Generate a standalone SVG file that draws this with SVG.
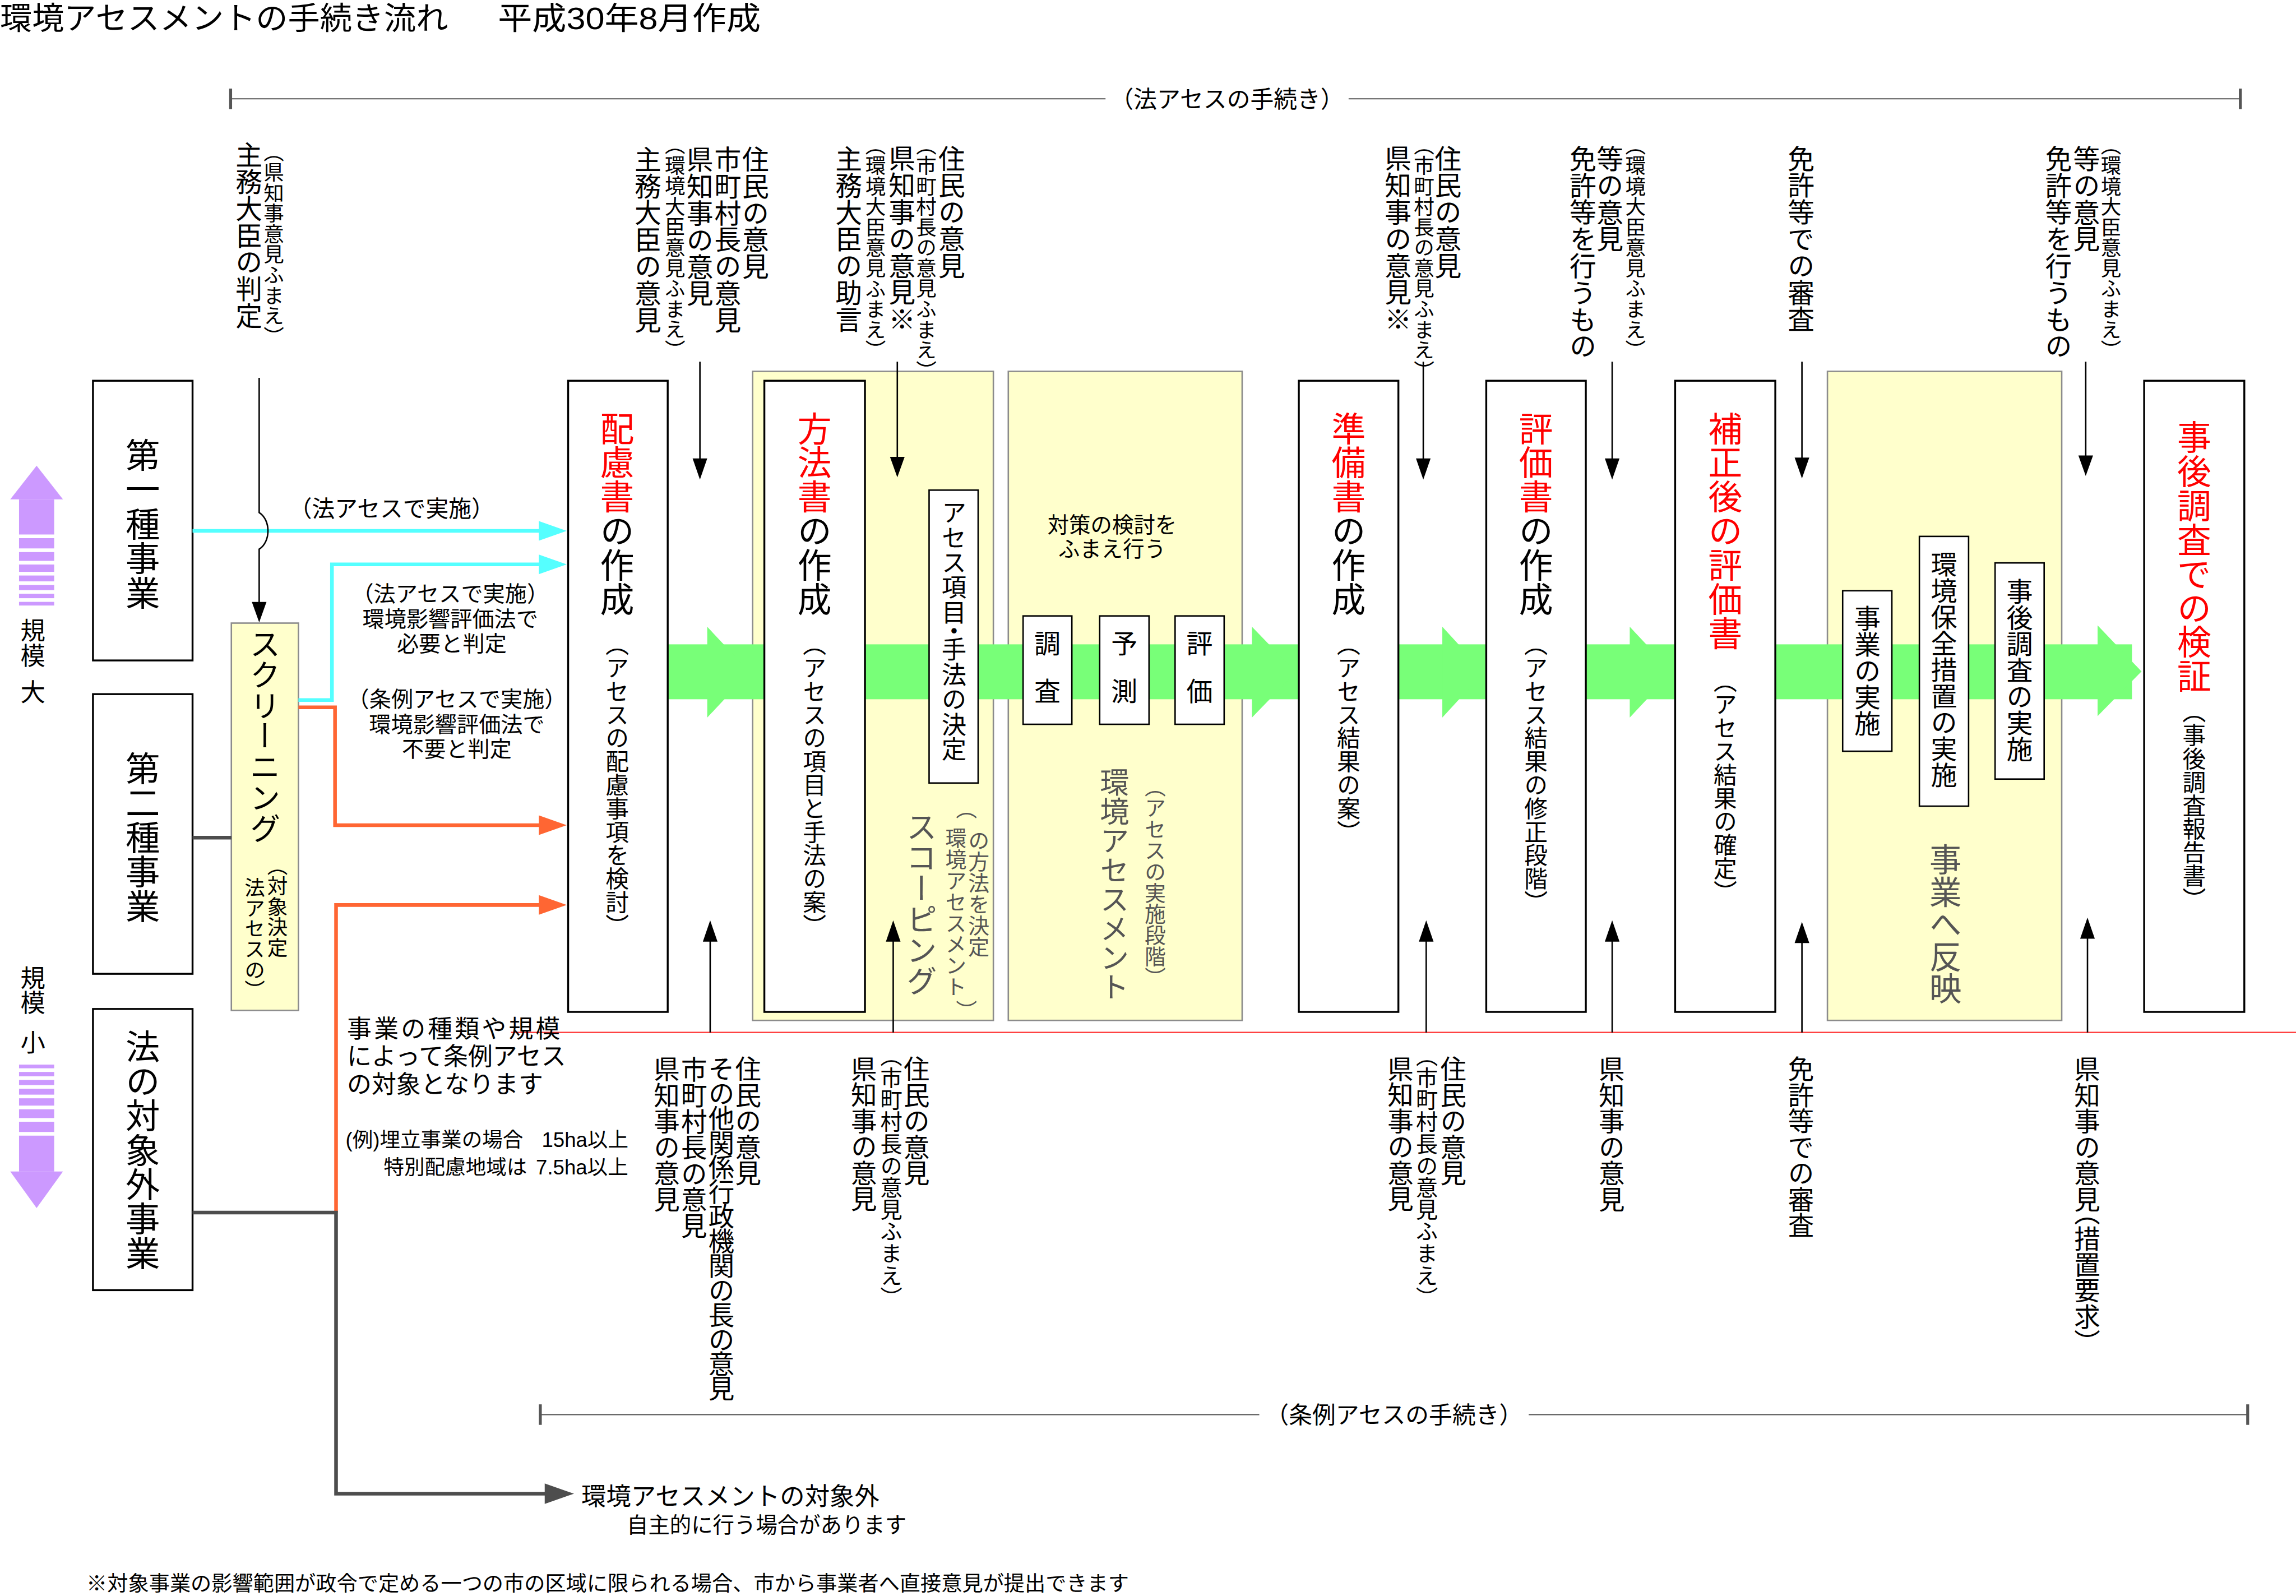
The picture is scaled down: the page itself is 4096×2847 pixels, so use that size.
<svg xmlns="http://www.w3.org/2000/svg" width="4096" height="2847" viewBox="0 0 4096 2847">
<style>
text{font-family:"Noto Sans CJK JP","Noto Sans CJK SC",sans-serif;fill:#000}
.hz{font-family:"Liberation Sans","Noto Sans CJK JP","Noto Sans CJK SC",sans-serif}
.v{writing-mode:vertical-rl;font-feature-settings:"vhal" 1}
.wb{fill:#fff;stroke:#000;stroke-width:1.3}
.yb{fill:#FFFFCC;stroke:#8c8c8c;stroke-width:1}
.sb{fill:#fff;stroke:#000;stroke-width:1}
.red{fill:#ff0000}
.gr{fill:#555}
.ln{fill:none;stroke-width:2.5}
.cy{stroke:#55FFFF}
.or{stroke:#FF6633}
.dg{stroke:#4d4d4d}
.bk{stroke:#000;stroke-width:1;fill:none}
.L{font-size:18.3px}
.S{font-size:14px}
.B{font-size:17.8px}
.BS{font-size:15px}
.box{font-size:23.3px}
.sub{font-size:16px}
</style>
<rect width="4096" height="2847" fill="#fff"/>
<g transform="scale(2.612245)">
<g id="title">
<text class="hz" x="0" y="20" font-size="21.3" textLength="306" lengthAdjust="spacingAndGlyphs">環境アセスメントの手続き流れ</text>
<text class="hz" x="340" y="20" font-size="21.3" textLength="179.5" lengthAdjust="spacingAndGlyphs">平成30年8月作成</text>
</g>
<g id="bracket-top">
<line x1="157.5" y1="67.5" x2="1530" y2="67.5" stroke="#555" stroke-width="0.8"/>
<line x1="157.5" y1="60.5" x2="157.5" y2="74.5" stroke="#555" stroke-width="2"/>
<line x1="1530" y1="60.5" x2="1530" y2="74.5" stroke="#555" stroke-width="2"/>
<rect x="755" y="58" width="166" height="20" fill="#fff"/>
<text class="hz" x="838" y="73.5" font-size="16" text-anchor="middle" fill="#333">（法アセスの手続き）</text>
</g>
<g id="bracket-bottom">
<line x1="369" y1="966" x2="1535" y2="966" stroke="#555" stroke-width="0.8"/>
<line x1="369" y1="959" x2="369" y2="973" stroke="#555" stroke-width="2"/>
<line x1="1535" y1="959" x2="1535" y2="973" stroke="#555" stroke-width="2"/>
<rect x="860" y="956" width="184" height="20" fill="#fff"/>
<text class="hz" x="952" y="972" font-size="16" text-anchor="middle" fill="#333">（条例アセスの手続き）</text>
</g>
<g id="scale-arrows" fill="#CC99FF">
<polygon points="25,318 43,341 7,341"/>
<rect x="13" y="341" width="24" height="24"/>
<rect x="13" y="367.5" width="24" height="7"/>
<rect x="13" y="377" width="24" height="6"/>
<rect x="13" y="385.5" width="24" height="5"/>
<rect x="13" y="393" width="24" height="4"/>
<rect x="13" y="399.5" width="24" height="3.5"/>
<rect x="13" y="405.5" width="24" height="3"/>
<rect x="13" y="411" width="24" height="2.5"/>
<rect x="13" y="727" width="24" height="2.5"/>
<rect x="13" y="732" width="24" height="3"/>
<rect x="13" y="737.5" width="24" height="3.5"/>
<rect x="13" y="743.5" width="24" height="4"/>
<rect x="13" y="750" width="24" height="5"/>
<rect x="13" y="757.5" width="24" height="6"/>
<rect x="13" y="766" width="24" height="7"/>
<rect x="13" y="775.5" width="24" height="24.5"/>
<polygon points="7,800 43,800 25,825"/>
</g>
<g id="scale-labels">
<text class="v" font-size="17"><tspan x="22.5" y="422">規模</tspan><tspan x="22.5" y="464">大</tspan></text>
<text class="v" font-size="17"><tspan x="22.5" y="659">規模</tspan><tspan x="22.5" y="703">小</tspan></text>
</g>
<g id="n-type1"><rect class="wb" x="63.5" y="260" width="68" height="191"/><text class="v" x="97.5" y="299" font-size="23.5">第一種事業</text></g>
<g id="n-type2"><rect class="wb" x="63.5" y="474" width="68" height="191"/><text class="v" x="97.5" y="513" font-size="23.5">第二種事業</text></g>
<g id="n-outside"><rect class="wb" x="63.5" y="689" width="68" height="192"/><text class="v" x="97.5" y="703" font-size="23.5">法の対象外事業</text></g>
<g id="n-screening"><rect class="yb" x="158" y="425.5" width="45.8" height="264.5"/>
<text class="v" x="181" y="429" font-size="21" fill="#444">スクリーニング</text>
<text class="v" font-size="14" fill="#444"><tspan x="189.5" y="591">（対象決定</tspan><tspan x="174" y="599">法アセスの）</tspan></text>
</g>
<g id="n-houhou-bg"><rect class="yb" x="514" y="253.6" width="164.4" height="443.2"/></g>
<g id="n-assess-bg"><rect class="yb" x="688.6" y="253.6" width="159.7" height="443.2"/></g>
<g id="n-hanei-bg"><rect class="yb" x="1248" y="253.6" width="160" height="443.2"/></g>
<g id="flow-arrow" fill="#78FF78">
<rect x="456" y="440" width="1000" height="37.5"/>
<polygon points="483,428 512,459 483,490"/>
<polygon points="855,428 885,459 855,490"/>
<polygon points="985,428 1013.5,459 985,490"/>
<polygon points="1113,428 1142,459 1113,490"/>
<polygon points="1432.5,427 1462.5,458.5 1432.5,489"/>
</g>
<g id="n-hairyo"><rect class="wb" x="388" y="260" width="68" height="431"/>
<text class="v box" x="421.5" y="281"><tspan class="red">配慮書</tspan>の作成</text>
<text class="v sub" x="421.5" y="440">（アセスの配慮事項を検討）</text></g>
<g id="n-houhou"><rect class="wb" x="522" y="260" width="68.7" height="431"/>
<text class="v box" x="556.3" y="281"><tspan class="red">方法書</tspan>の作成</text>
<text class="v sub" x="556.3" y="440">（アセスの項目と手法の案）</text></g>
<g id="n-scoping-item"><rect class="sb" x="634.5" y="334.7" width="33.5" height="200"/>
<text class="v" x="651.5" y="341.5" font-size="17">アセス項目・手法の決定</text></g>
<g id="n-scoping-label">
<text class="v gr" x="629.4" y="554" font-size="21">スコーピング</text>
<text class="v gr" font-size="14.5"><tspan x="660" y="552">（</tspan><tspan x="668.5" y="566.5">の方法を決定</tspan><tspan x="652.9" y="565">環境アセスメント</tspan><tspan x="660" y="683">）</tspan></text>
</g>
<g id="n-assess">
<text class="hz" font-size="14.7" text-anchor="middle"><tspan x="759.5" y="363.5">対策の検討を</tspan><tspan x="759.5" y="380">ふまえ行う</tspan></text>
<rect class="sb" x="698.7" y="420.6" width="33.3" height="74"/>
<rect class="sb" x="751" y="420.6" width="33.7" height="74"/>
<rect class="sb" x="802.5" y="420.6" width="33.5" height="74"/>
<text font-size="18" text-anchor="middle"><tspan x="715.3" y="445.8">調</tspan><tspan x="715.3" y="478.4">査</tspan></text>
<text font-size="18" text-anchor="middle"><tspan x="767.8" y="445.8">予</tspan><tspan x="767.8" y="478.4">測</tspan></text>
<text font-size="18" text-anchor="middle"><tspan x="819.2" y="445.8">評</tspan><tspan x="819.2" y="478.4">価</tspan></text>
<text class="v gr" x="761.2" y="524" font-size="20">環境アセスメント</text>
<text class="v gr" x="789" y="537" font-size="14.5">（アセスの実施段階）</text>
</g>
<g id="n-junbi"><rect class="wb" x="887" y="260" width="68" height="431"/>
<text class="v box" x="921" y="281"><tspan class="red">準備書</tspan>の作成</text>
<text class="v sub" x="921" y="440">（アセス結果の案）</text></g>
<g id="n-hyouka"><rect class="wb" x="1015" y="260" width="68" height="431"/>
<text class="v box" x="1049" y="281"><tspan class="red">評価書</tspan>の作成</text>
<text class="v sub" x="1049" y="440">（アセス結果の修正段階）</text></g>
<g id="n-hosei"><rect class="wb" x="1144" y="260" width="68.4" height="431"/>
<text class="v box red" x="1178.3" y="281">補正後の評価書</text>
<text class="v sub" x="1178.3" y="465">（アセス結果の確定）</text></g>
<g id="n-hanei">
<rect class="sb" x="1258.4" y="403.4" width="33.6" height="109.6"/>
<rect class="sb" x="1310.8" y="366.3" width="33.6" height="184.2"/>
<rect class="sb" x="1362.5" y="384.4" width="33.5" height="147.6"/>
<text class="v" x="1275.3" y="413" font-size="18">事業の実施</text>
<text class="v" x="1327.6" y="376" font-size="18">環境保全措置の実施</text>
<text class="v" x="1379.3" y="394.5" font-size="18">事後調査の実施</text>
<text class="v gr" x="1328.6" y="576" font-size="22">事業へ反映</text>
</g>
<g id="n-jigo"><rect class="wb" x="1464.3" y="260" width="68.4" height="431"/>
<text class="v box red" x="1498.5" y="287">事後調査での検証</text>
<text class="v sub" x="1498.5" y="486">（事後調査報告書）</text></g>
<g id="connectors">
<line x1="349" y1="705" x2="1568" y2="705" stroke="#FF3333" stroke-width="0.8"/>
<path class="ln cy" d="M131.5,362.5 H369"/>
<polygon fill="#55FFFF" points="368,355.8 387,362.5 368,369.2"/>
<path class="ln cy" d="M203.8,478 H226.7 V385.4 H369"/>
<polygon fill="#55FFFF" points="368,378.7 387,385.4 368,392.1"/>
<path class="ln or" d="M203.8,483 H228.8 V563.5 H369"/>
<polygon fill="#FF6633" points="368,556.8 387,563.5 368,570.2"/>
<path class="ln or" d="M229.5,828 V618 H369"/>
<polygon fill="#FF6633" points="368,611.3 387,618 368,624.7"/>
<path class="ln dg" d="M131.5,572 H158"/>
<path class="ln dg" d="M131.5,828 H229.5 V1020 H373"/>
<polygon fill="#4d4d4d" points="372,1013 392,1020 372,1027"/>
<path class="bk" d="M177,258 V350 C185,355 185,370 177,375 V412"/>
<polygon points="172,411 182,411 177,425"/>
<g id="top-arrows">
<path class="bk" d="M478,247 V314 M612.8,247 V314 M972,247 V314 M1101,247 V314 M1230.6,247 V314 M1424.4,247 V312"/>
<polygon points="473,313 483,313 478,327.5"/>
<polygon points="607.8,312 617.8,312 612.8,326"/>
<polygon points="967,313 977,313 972,327.5"/>
<polygon points="1096,313 1106,313 1101,327.5"/>
<polygon points="1225.6,312.5 1235.6,312.5 1230.6,326.7"/>
<polygon points="1419.4,311 1429.4,311 1424.4,325"/>
</g>
<g id="bottom-arrows">
<path class="bk" d="M485,705 V642 M610,705 V642 M974,705 V642 M1101,705 V642 M1230.6,705 V643 M1425.6,705 V640"/>
<polygon points="480,643 490,643 485,628.5"/>
<polygon points="605,643 615,643 610,628.5"/>
<polygon points="969,643 979,643 974,628.5"/>
<polygon points="1096,643 1106,643 1101,628.5"/>
<polygon points="1225.6,644 1235.6,644 1230.6,629.5"/>
<polygon points="1420.6,641 1430.6,641 1425.6,626.6"/>
</g>
</g>
<g id="line-labels">
<text class="hz" x="267.5" y="353" font-size="15.6" text-anchor="middle">（法アセスで実施）</text>
<text class="hz" font-size="15" text-anchor="middle"><tspan x="307.5" y="410.8">（法アセスで実施）</tspan><tspan x="307.5" y="427.8">環境影響評価法で</tspan><tspan x="308.5" y="444.8">必要と判定</tspan></text>
<text class="hz" font-size="15" text-anchor="middle"><tspan x="312" y="482.8">（条例アセスで実施）</tspan><tspan x="312" y="499.8">環境影響評価法で</tspan><tspan x="312" y="516.8">不要と判定</tspan></text>
</g>
<g id="top-notes">
<text class="v"><tspan class="L" x="170" y="96.5">主務大臣の判定</tspan><tspan class="S" x="187" y="103.5">（県知事意見ふまえ）</tspan></text>
<text class="v"><tspan class="L" x="516" y="99.5">住民の意見</tspan><tspan class="L" x="497" y="99.5">市町村長の意見</tspan><tspan class="L" x="478" y="99.5">県知事の意見</tspan><tspan class="S" x="461" y="99">（環境大臣意見ふまえ）</tspan><tspan class="L" x="442.5" y="99.5">主務大臣の意見</tspan></text>
<text class="v"><tspan class="L" x="650" y="99">住民の意見</tspan><tspan class="S" x="632.6" y="99">（市町村長の意見ふまえ）</tspan><tspan class="L" x="616" y="99">県知事の意見※</tspan><tspan class="S" x="598" y="99">（環境大臣意見ふまえ）</tspan><tspan class="L" x="579.6" y="99">主務大臣の助言</tspan></text>
<text class="v"><tspan class="L" x="989" y="99">住民の意見</tspan><tspan class="S" x="972.6" y="99">（市町村長の意見ふまえ）</tspan><tspan class="L" x="954.8" y="99">県知事の意見※</tspan></text>
<text class="v"><tspan class="S" x="1117" y="99">（環境大臣意見ふまえ）</tspan><tspan class="L" x="1099.5" y="99">等の意見</tspan><tspan class="L" x="1081" y="99">免許等を行うもの</tspan></text>
<text class="v L" x="1230" y="99">免許等での審査</text>
<text class="v"><tspan class="S" x="1441.7" y="99">（環境大臣意見ふまえ）</tspan><tspan class="L" x="1425" y="99">等の意見</tspan><tspan class="L" x="1405.8" y="99">免許等を行うもの</tspan></text>
</g>
<g id="bottom-notes">
<text class="v B"><tspan x="511" y="721">住民の意見</tspan><tspan x="492.7" y="721" letter-spacing="-1">その他関係行政機関の長の意見</tspan><tspan x="474" y="721">市町村長の意見</tspan><tspan x="455.4" y="721">県知事の意見</tspan></text>
<text class="v B"><tspan x="626" y="721">住民の意見</tspan><tspan class="BS" x="608.7" y="721">（市町村長の意見ふまえ）</tspan><tspan x="590" y="721">県知事の意見</tspan></text>
<text class="v B"><tspan x="992.5" y="721">住民の意見</tspan><tspan class="BS" x="974.5" y="721">（市町村長の意見ふまえ）</tspan><tspan x="956.5" y="721">県知事の意見</tspan></text>
<text class="v B" x="1100.7" y="721">県知事の意見</text>
<text class="v B" x="1230" y="721">免許等での審査</text>
<text class="v B" x="1425.4" y="721">県知事の意見（措置要求）</text>
</g>
<g id="left-notes">
<text class="hz" font-size="16.8"><tspan x="237" y="708.5" letter-spacing="1.6">事業の種類や規模</tspan><tspan x="237" y="727.5">によって条例アセス</tspan><tspan x="237" y="746.5">の対象となります</tspan></text>
<text class="hz" font-size="14"><tspan x="236" y="783.3">(例)埋立事業の場合</tspan><tspan x="370" y="783.3">15ha以上</tspan><tspan x="262" y="802">特別配慮地域は</tspan><tspan x="366" y="802">7.5ha以上</tspan></text>
</g>
<g id="n-out-target">
<text class="hz" font-size="17"><tspan x="397" y="1027.8">環境アセスメントの対象外</tspan><tspan x="428" y="1046.6" font-size="14.7">自主的に行う場合があります</tspan></text>
</g>
<g id="footnote">
<text class="hz" x="59" y="1086.4" font-size="14.2" textLength="712" lengthAdjust="spacingAndGlyphs">※対象事業の影響範囲が政令で定める一つの市の区域に限られる場合、市から事業者へ直接意見が提出できます</text>
</g>
</g>
</svg>
